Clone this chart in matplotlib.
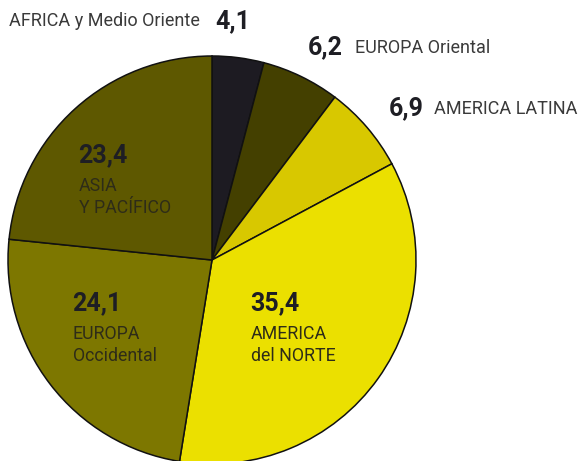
import matplotlib.pyplot as plt

# share by region, clockwise from 12 o'clock
regions = ['AFRICA y Medio Oriente', 'EUROPA Oriental', 'AMERICA LATINA',
           'AMERICA\ndel NORTE', 'EUROPA\nOccidental', 'ASIA\nY PACÍFICO']
values = [4.1, 6.2, 6.9, 35.4, 24.1, 23.4]
value_labels = ['4,1', '6,2', '6,9', '35,4', '24,1', '23,4']

colors = ['#1d1b22', '#444000', '#d8c800', '#ebe000', '#7d7700', '#5e5800']

W, H = 580, 461
fig = plt.figure(figsize=(W / 100, H / 100), dpi=100)
ax = fig.add_axes([0, 0, 1, 1])

ax.pie(values, colors=colors, startangle=90, counterclock=False,
       center=(212, H - 260), radius=204,
       wedgeprops=dict(edgecolor='#111111', linewidth=1.1))

ax.set_xlim(0, W)
ax.set_ylim(0, H)
ax.set_aspect('equal')
ax.axis('off')

font = 'Roboto'
num_kw = dict(fontsize=18, fontweight='bold', color='#1e1e24', family=font, va='center')
lab_kw = dict(fontsize=13, color='#3a3a3a', family=font, va='center')
in_kw = dict(fontsize=12.8, color='#2e2c18', family=font, va='top', linespacing=1.3)


def y(v):
    return H - v


# outside labels
ax.text(9, y(21), regions[0], ha='left', **lab_kw)
ax.text(215, y(21), value_labels[0], ha='left', **num_kw)
ax.text(308, y(47), value_labels[1], ha='left', **num_kw)
ax.text(355, y(48), regions[1], ha='left', **lab_kw)
ax.text(389, y(108), value_labels[2], ha='left', **num_kw)
ax.text(434, y(109), regions[2], ha='left', **lab_kw)

# labels inside the wedges
ax.text(250, y(303), value_labels[3], ha='left', **num_kw)
ax.text(251, y(325), regions[3], ha='left', **in_kw)
ax.text(72, y(303), value_labels[4], ha='left', **num_kw)
ax.text(73, y(325), regions[4], ha='left', **in_kw)
ax.text(78, y(155), value_labels[5], ha='left', **num_kw)
ax.text(79, y(177), regions[5], ha='left', **in_kw)

fig.savefig('out.png', dpi=100, facecolor='white')
